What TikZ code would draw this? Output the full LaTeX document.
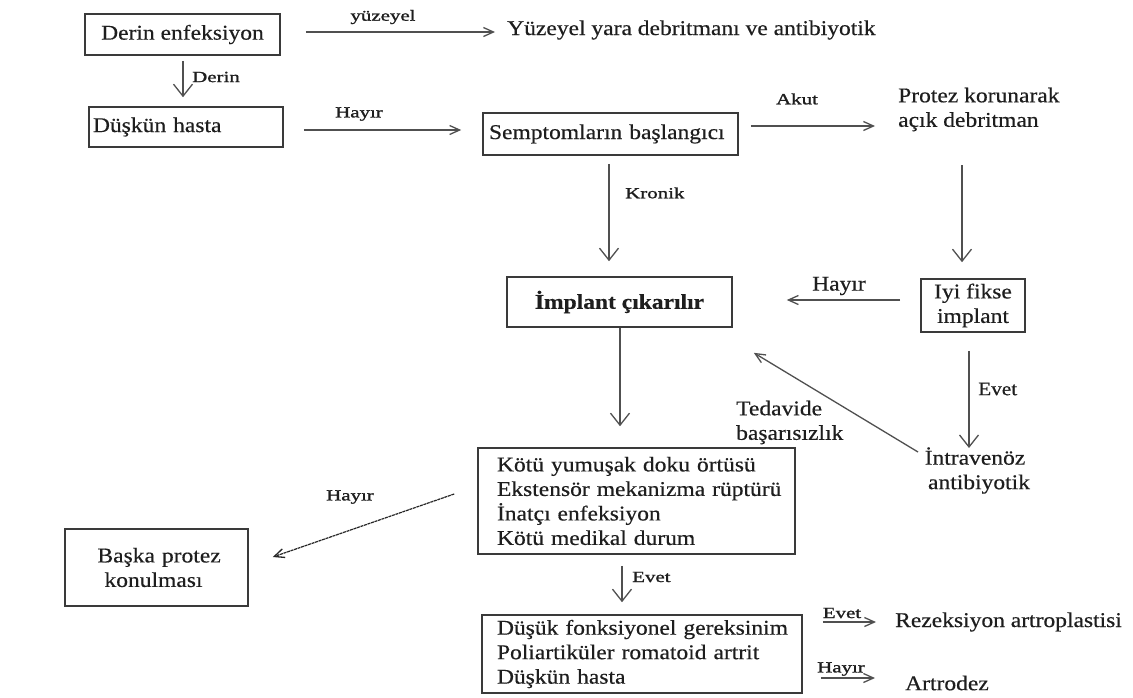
\documentclass[tikz,border=0pt]{standalone}
\usepackage{fontspec}
\setmainfont{Liberation Serif}[FakeStretch=1.12, FakeBold=0.4]
\newfontfamily\labfont{Liberation Serif}[FakeStretch=1.35, FakeBold=1.3]
\usetikzlibrary{arrows.meta,calc}
\definecolor{boxc}{HTML}{3A3A3A}
\definecolor{arrc}{HTML}{505050}
\definecolor{textc}{HTML}{1E1E1E}
\begin{document}
\begin{tikzpicture}[x=1pt,y=-1pt,
  txt/.style={inner sep=0pt, text=textc, font=\fontsize{21}{24.5}\selectfont},
  lbl/.style={inner sep=0pt, text=textc, font=\labfont\fontsize{15.5}{18}\selectfont},
  box/.style={draw=boxc, line width=1.6pt, inner sep=0pt, txt},
  arr/.style={draw=arrc, line width=1.3pt, -{Straight Barb[length=12pt,width=19pt,line width=1.3pt]}},
  sarr/.style={draw=arrc, line width=1.3pt, -{Straight Barb[length=10pt,width=9pt,line width=1.3pt]}}
]
\fill[white] (0,0) rectangle (1133,697);
\useasboundingbox (0,0) rectangle (1133,697);

% boxes and texts
\node[box, minimum width=195pt, minimum height=41pt] (n1) at (182.5,34.5) {Derin enfeksiyon};
\node[txt, anchor=west] (yuz) at (507,30) {Yüzeyel yara debritmanı ve antibiyotik};
\node[box, minimum width=194pt, minimum height=40pt, text width=186pt, inner xsep=4pt, align=left] (n2) at (186,127) {Düşkün hasta};
\node[box, minimum width=255pt, minimum height=42pt, text width=243pt, inner xsep=6pt, align=left] (n3) at (610.5,134) {Semptomların başlangıcı};
\node[txt, anchor=west, align=left] (pz) at (898,109.5) {Protez korunarak\\açık debritman};
\node[box, minimum width=225pt, minimum height=50pt, font=\fontsize{21}{24.5}\selectfont\bfseries] (n4) at (619.5,302) {İmplant çıkarılır};
\node[box, minimum width=104pt, minimum height=53pt, align=center] (n5) at (973,305.5) {Iyi fikse\\implant};
\node[txt, align=center] (iv) at (975,470.5) {İntravenöz\\\hspace*{8pt}antibiyotik};
\node[txt, anchor=west, align=left] (ted) at (736,422.5) {Tedavide\\başarısızlık};
\node[box, minimum width=317pt, minimum height=106pt, text width=279pt, inner xsep=19pt, align=left] (L1) at (636.5,501)
  {\mbox{Kötü yumuşak doku örtüsü}\\\mbox{Ekstensör mekanizma rüptürü}\\\mbox{İnatçı enfeksiyon}\\\mbox{Kötü medikal durum}};
\node[box, minimum width=320pt, minimum height=78pt, text width=290pt, inner xsep=15pt, align=left] (L2) at (642,654)
  {\mbox{Düşük fonksiyonel gereksinim}\\\mbox{Poliartiküler romatoid artrit}\\\mbox{Düşkün hasta}};
\node[box, minimum width=183pt, minimum height=77pt, text width=150pt, inner xsep=16.5pt, align=left] (bp) at (156.5,567.5)
  {\mbox{\hspace*{16pt}Başka protez}\\\mbox{\hspace*{23pt}konulması}};
\node[txt, anchor=west] (rez) at (895,622) {Rezeksiyon artroplastisi};
\node[txt, anchor=west] (art) at (905,683) {Artrodez};

% labels
\node[lbl] (l1) at (383,17) {yüzeyel};
\node[lbl, anchor=west] (l2) at (192,77) {Derin};
\node[lbl] (l3) at (359,114) {Hayır};
\node[lbl] (l4) at (797,99) {Akut};
\node[lbl, anchor=west] (l5) at (625,193) {Kronik};
\node[txt] (l6) at (839,286) {Hayır};
\node[txt, anchor=west, font=\fontsize{19}{22}\selectfont] (l7) at (978,389) {Evet};
\node[lbl] (l8) at (350,497) {Hayır};
\node[lbl, anchor=west] (l9) at (632,577) {Evet};
\node[lbl] (l10) at (842,613) {Evet};
\node[lbl] (l11) at (841,669) {Hayır};

% connectors
\draw[sarr] ($(n1.east)+(25,-2.5)$) -- ($(yuz.west)+(-12,2)$);
\draw[arr] ($(n1.south)+(0.5,5)$) -- ($(n2.north)+(-3,-9)$);
\draw[sarr] ($(n2.east)+(20,3)$) -- ($(n3.west)+(-21,-4)$);
\draw[sarr] ($(n3.east)+(12,-8)$) -- ($(pz.west)+(-23,16.5)$);
\draw[arr] ($(n3.south)+(-1.5,8)$) -- ($(n4.north)+(-10.5,-15)$);
\draw[arr] ($(n5.north |- pz.west)+(-11,55.5)$) -- ($(n5.north)+(-11,-16)$);
\draw[sarr] ($(n5.west)+(-20,-5.5)$) -- ($(n4.east)+(54,-2)$);
\draw[arr] ($(n5.south)+(-4,18)$) -- ($(iv.center)+(-6,-22.5)$);
\draw[sarr] ($(iv.center)+(-57,-18.5)$) -- ($(n4.south east)+(21,25)$);
\draw[arr] ($(n4.south)+(0.5,0)$) -- ($(L1.north)+(-16.5,-21)$);
\draw[sarr, draw=black!85, line width=1.2pt, dash pattern=on 3pt off 0.7pt] ($(L1.west)+(-23,-7)$) -- ($(bp.east)+(24,-10.5)$);
\draw[arr] ($(L1.south)+(-14.5,11)$) -- ($(L2.north)+(-20,-12)$);
\draw[sarr, line width=1.2pt] ($(L2.east)+(20,-32)$) -- ($(rez.west)+(-19,0)$);
\draw[sarr, line width=1.2pt] ($(L2.east)+(18,24)$) -- ($(art.west)+(-30,-5)$);
\end{tikzpicture}
\end{document}
